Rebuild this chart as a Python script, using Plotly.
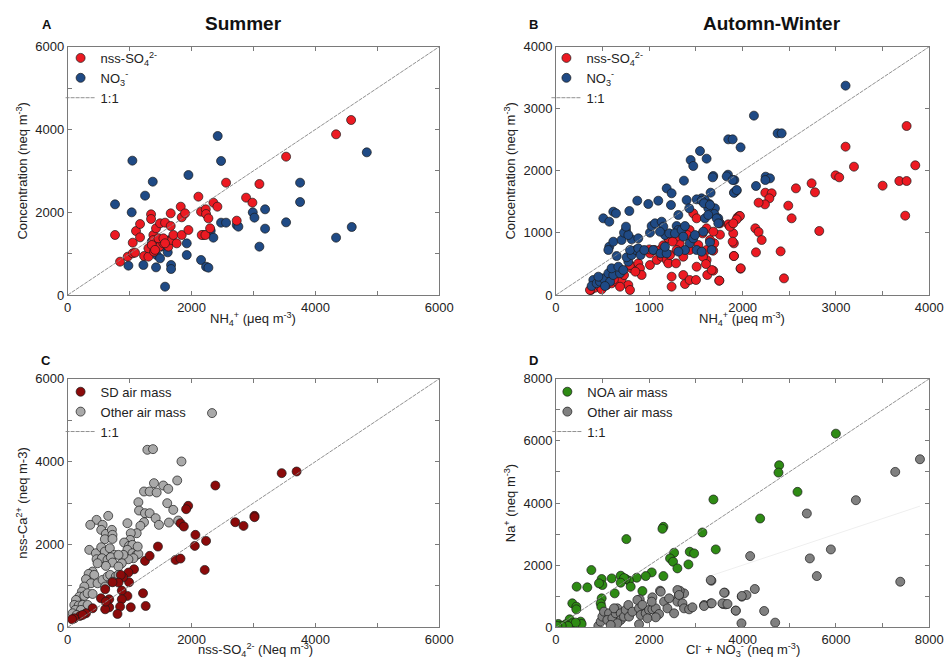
import plotly.graph_objects as go

# ---------------- Panel A: Summer ----------------
a_so4_nh4 = [764, 845, 969, 1050, 1087, 1050, 1103, 1168, 1168, 1233, 1303, 1303, 1346, 1346, 1383,
             1383, 1394, 1426, 1491, 1572, 1663, 1663, 1480, 1545, 1599, 1626, 1680, 1706, 1760, 1841,
             1825, 1841, 1895, 1949, 1464, 1545, 1357, 1410, 1571, 2110, 2153, 2229, 2234, 2272, 2164,
             2223, 2299, 2352, 2417, 2557, 2729, 2880, 2982, 3095, 3526, 4333, 4576]
a_so4 = [1450, 805, 926, 1007, 1023, 1264, 1546, 1715, 1393, 942, 926, 1128, 1949, 1836, 1450,
         1329, 1047, 1611, 1732, 1748, 1973, 1667, 1168, 1248, 1313, 1168, 1329, 1450, 1248, 1450,
         2134, 1877, 1973, 1571, 1369, 1369, 1208, 1090, 1249, 2376, 2014, 2070, 1957, 1852, 1450,
         1450, 1611, 2231, 2134, 2714, 1796, 2352, 2231, 2682, 3342, 3882, 4228]
a_no3_nh4 = [764, 980, 1044, 1033, 1222, 1249, 1373, 1426, 1437, 1491, 1513, 1572, 1615, 1669, 1669,
             1653, 1922, 1922, 1949, 2153, 2234, 2272, 2191, 2309, 2352, 2422, 2476, 2476, 2557, 2729,
             2756, 2988, 3015, 3095, 3187, 3187, 3526, 3752, 3752, 4333, 4586, 4829, 1357, 1450]
a_no3 = [2191, 709, 3246, 1997, 725, 2400, 2738, 668, 966, 886, 1168, 201, 1031, 725, 628,
         1329, 966, 1248, 2899, 846, 684, 660, 1450, 1554, 1385, 3842, 3238, 1748, 1748, 1691,
         1651, 1997, 1869, 1168, 2070, 1603, 1756, 2714, 2247, 1385, 1643, 3447, 1289, 1180]

# ---------------- Panel B: Autumn-Winter ----------------
b_so4_nh4 = [3757, 3103, 3193, 2996, 3035, 3500, 3679, 3757, 3850, 3742, 2739, 2775, 2571, 2489, 2525,
             2821, 2407, 2443, 2243, 2311, 2286, 2239, 2171, 2136, 2171, 2204, 2143, 1978, 1906, 1906,
             1899, 1946, 1964, 1846, 1757, 1696, 1685, 1685, 1750, 1614, 1621,
             375, 418, 471, 543, 596, 650, 703, 775, 793, 686, 729, 811, 793, 882, 900,
             918, 850, 1007, 1007, 1079, 1000, 1054, 1114, 1132, 1186, 1204, 1222, 1325, 1286, 1239,
             1239, 1364, 1382, 1432, 1500, 1668, 1750, 1432, 1407, 1471, 1507, 1571, 1614, 1650, 1686,
             1614, 1525, 1432, 1311, 1293, 1204, 1293, 1364, 1757, 1864, 1893, 1907, 1979, 1971, 1936,
             1900, 1575, 1607, 1507, 364, 489, 560, 620, 1150, 1250]
b_so4 = [2722, 2389, 2067, 1927, 1895, 1761, 1836, 1836, 2089, 1278, 1799, 1654, 1718, 1439, 1235,
         1031, 703, 268, 1648, 1638, 1557, 1460, 1487, 1074, 1015, 886, 687, 424, 628, 832,
         993, 1251, 1272, 1138, 972, 832, 714, 392, 231, 563, 322,
         81, 118, 134, 161, 188, 215, 252, 161, 81, 134, 322, 430, 483, 510, 430,
         322, 376, 483, 671, 564, 735, 725, 725, 617, 564, 510, 644, 832, 510, 295,
         134, 322, 177, 242, 242, 403, 231, 1047, 966, 1315, 1235, 993, 1074, 886, 1020,
         725, 805, 725, 966, 940, 913, 725, 617, 1154, 1101, 859, 628, 430, 1272, 1219,
         1154, 617, 499, 456, 81, 91, 300, 250, 800, 860]
b_no3_nh4 = [3103, 2121, 2375, 2418, 1846, 1893, 1978, 1614, 1685, 1843, 1911, 1911, 1936, 2143, 2247,
             2293, 2243, 1657, 1560, 1596, 1643, 1703, 1632, 1696, 1739, 1596, 1750, 1578, 1650, 1668,
             1543, 400, 382, 436, 471, 507, 454, 561, 579, 525, 614, 686, 596, 668, 721,
             775, 757, 811, 857, 793, 882, 907, 946, 650, 571, 561, 614, 703, 811, 882,
             750, 729, 775, 750, 507, 571, 614, 643, 786, 871, 989, 1096, 1186, 1239, 1371,
             1443, 1471, 1679, 1829, 1893, 1907, 1936, 1232, 1311, 1400, 1428, 1507, 1561, 1586, 1650,
             1632, 1721, 1739, 1007, 1025, 1061, 1132, 1150, 1168, 1114, 1214, 1293, 1311, 1275, 1346,
             1364, 1382, 1432, 1382, 1507, 1471, 1561, 1489, 1311, 1043, 1121, 1186, 1168]
b_no3 = [3372, 2889, 2604, 2604, 2507, 2507, 2378, 2196, 1917, 1938, 1852, 1648, 1681, 1756, 1906,
         1879, 1852, 1648, 1557, 1530, 1466, 1396, 1396, 1305, 1235, 1235, 1165, 1020, 848, 725,
         2319, 242, 145, 188, 215, 268, 295, 349, 215, 145, 322, 349, 430, 456, 403,
         537, 607, 644, 725, 725, 752, 644, 725, 628, 778, 725, 859, 886, 897, 913,
         1047, 1004, 966, 1101, 1235, 1181, 1342, 1315, 1353, 1519, 1466, 1519, 1718, 1638, 1842,
         2174, 2078, 1895, 1911, 1852, 1648, 1691, 1450, 1289, 1530, 1396, 1541, 1519, 1477, 1450,
         1289, 1235, 1154, 1004, 1111, 1154, 1181, 1101, 966, 1020, 993, 1111, 1047, 993, 1047,
         940, 1111, 832, 725, 725, 913, 698, 966, 698, 725, 671, 671, 778]

# ---------------- Panel C: Ca vs SO4 ----------------
c_sd_so4 = [3455, 3696, 2384, 2705, 2839, 3016, 3016, 1945, 1912, 1821, 1875, 2062, 2052, 2234, 2212,
            1741, 1821, 1457, 1248, 1323, 1216, 1259, 1071, 980, 991, 964, 1018, 895, 857, 820,
            723, 873, 873, 846, 804, 670, 670, 605, 536, 616, 605, 402, 295, 198, 107, 70, 241]
c_sd_ca = [3721, 3761, 3423, 2537, 2448, 2690, 2658, 2932, 2851, 2513, 2432, 2231, 1965, 2086, 1385,
           1627, 1659, 1949, 1603, 1724, 822, 515, 1401, 1321, 1087, 757, 483, 1208, 1265, 1079,
           1087, 886, 677, 499, 322, 677, 483, 435, 701, 620, 918, 459, 338, 274, 217, 193, 298]
c_other_so4 = [2330, 1286, 1377, 1837, 1768, 1543, 1623, 1393, 1232, 1323, 1436, 1607, 1704, 1141, 1152,
               1248, 1323, 1420, 1473, 1634, 1784, 1232, 1173, 1114, 964, 466, 364, 563, 654, 541,
               616, 713, 723, 600, 723, 1018, 1007, 911, 991, 1045, 964, 1045, 1114, 1141, 1061,
               980, 900, 873, 1130, 348, 455, 541, 600, 680, 755, 466, 552, 643, 696, 820,
               723, 820, 616, 482, 402, 338, 429, 295, 375, 482, 563, 643, 686, 777, 605,
               723, 820, 268, 230, 188, 268, 321, 402, 134, 107, 177, 241, 321, 123, 214,
               80, 145]
c_other_ca = [5171, 4285, 4301, 4003, 3544, 3423, 3342, 3479, 3278, 3278, 3254, 2996, 2835, 3020, 2819,
              2754, 2754, 2634, 2473, 2529, 2577, 2537, 2448, 2271, 2513, 2593, 2473, 2473, 2690, 2352,
              2255, 2352, 2231, 2126, 2134, 2271, 2110, 2046, 1965, 1989, 1869, 1788, 1748, 1772, 1667,
              1643, 1748, 1546, 1949, 1869, 1788, 1933, 1828, 1909, 1748, 1643, 1667, 1627, 1691, 1748,
              1562, 1466, 1482, 1546, 1345, 1289, 1265, 1160, 1063, 1063, 1144, 1224, 1265, 1224, 983,
              1103, 1265, 983, 862, 741, 757, 822, 805, 660, 540, 524, 540, 540, 419, 419,
              338, 298]

# ---------------- Panel D: Na vs Cl + NO3 ----------------
d_noa_x = [5998, 4783, 4768, 5176, 3374, 4375, 2302, 2281, 1508, 3138, 3424, 2531, 2867, 2960, 2445,
           2509, 2602, 2838, 2302, 2052, 1923, 1852, 1730, 1566, 1494, 1387, 1458, 1387, 1601, 1194,
           1258, 979, 994, 922, 979, 958, 972, 758, 672, 443, 350, 436, 436, 293, 350,
           529, 550, 422, 207, 257, 50, 122, 29]
d_noa_na = [6233, 5216, 4980, 4359, 4113, 3502, 3234, 3170, 2838, 3052, 2506, 2399, 2431, 2378, 2217,
            2110, 1896, 2024, 1649, 1767, 1649, 1167, 1596, 1499, 1553, 1660, 1585, 1435, 1307, 1574,
            1092, 1553, 1360, 1414, 932, 771, 664, 1842, 1285, 1307, 771, 664, 578, 257, 129,
            182, 107, 150, 96, 43, 107, 43, 43]
d_other_x = [7800, 7270, 6427, 5376, 5891, 5440, 5590, 7378, 4161, 3331, 3617, 3639, 3581, 4261, 3982,
             4082, 3853, 4461, 3975, 4697, 3174, 3317, 2745, 2652, 2624, 2230, 2066, 1794, 1780,
             908, 958, 994, 1029, 1137, 1101, 1208, 1280, 1315, 1244, 1387, 1387, 1458, 1494, 1551,
             1315, 1172, 1566, 1637, 1744, 1780, 1816, 1852, 1923, 1995, 2066, 2138, 2052, 2209, 2245,
             2316, 2388, 2424, 2531, 2602, 2602, 2638, 2710, 2745, 2853, 2924, 3174, 3317, 3338, 3567,
             3675, 3603, 3853, 3982, 2138, 1959]
d_other_na = [5409, 5002, 4091, 3663, 2506, 2217, 1649, 1467, 2292, 1499, 1114, 739, 750, 1232, 985,
              1039, 536, 525, 129, 150, 718, 771, 1092, 1178, 985, 1178, 964, 900, 96,
              43, 182, 343, 503, 450, 236, 289, 450, 610, 610, 450, 236, 343, 557, 718,
              129, 75, 343, 503, 878, 610, 396, 718, 450, 557, 578, 610, 825, 428, 1146,
              825, 610, 932, 450, 825, 1199, 1039, 771, 610, 578, 643, 685, 1520, 771, 771,
              750, 1114, 536, 1007, 321, 289]
# faint reference line for the other air mass group
d_fit_x = [3200, 7800]
d_fit_slope = 0.5

one_to_one_a = [0, 6000]
one_to_one_b = [0, 4000]
one_to_one_c = [0, 6000]
one_to_one_d = [0, 8000]

RED = "#ec1a22"
NAVY = "#1f4a85"
DARKRED = "#8b0a0a"
LIGHTGRAY = "#a9a9a9"
GREEN = "#2e8b14"
GRAY = "#808080"
FONT = "Liberation Sans, Arial, sans-serif"


def marker(color):
    return dict(color=color, size=9, line=dict(color="#1a1a1a", width=0.7))


def one_line(xy, ax, legend):
    return go.Scatter(x=xy, y=xy, mode="lines", name="1:1", xaxis=ax[0], yaxis=ax[1],
                      line=dict(color="#858585", width=0.9, dash="4px,1px"),
                      legend=legend, legendrank=3)


fig = go.Figure()

# A
fig.add_trace(go.Scatter(x=a_no3_nh4, y=a_no3, mode="markers", name="NO<sub>3</sub><sup>-</sup>",
                         marker=marker(NAVY), xaxis="x", yaxis="y", legend="legend", legendrank=2))
fig.add_trace(go.Scatter(x=a_so4_nh4, y=a_so4, mode="markers", name="nss-SO<sub>4</sub><sup>2-</sup>",
                         marker=marker(RED), xaxis="x", yaxis="y", legend="legend", legendrank=1))
fig.add_trace(one_line(one_to_one_a, ("x", "y"), "legend"))

# B
fig.add_trace(go.Scatter(x=b_so4_nh4, y=b_so4, mode="markers", name="nss-SO<sub>4</sub><sup>2-</sup>",
                         marker=marker(RED), xaxis="x2", yaxis="y2", legend="legend2", legendrank=1))
fig.add_trace(go.Scatter(x=b_no3_nh4, y=b_no3, mode="markers", name="NO<sub>3</sub><sup>-</sup>",
                         marker=marker(NAVY), xaxis="x2", yaxis="y2", legend="legend2", legendrank=2))
fig.add_trace(one_line(one_to_one_b, ("x2", "y2"), "legend2"))

# C
fig.add_trace(go.Scatter(x=c_other_so4, y=c_other_ca, mode="markers", name="Other air mass",
                         marker=marker(LIGHTGRAY), xaxis="x3", yaxis="y3", legend="legend3", legendrank=2))
fig.add_trace(go.Scatter(x=c_sd_so4, y=c_sd_ca, mode="markers", name="SD air mass",
                         marker=marker(DARKRED), xaxis="x3", yaxis="y3", legend="legend3", legendrank=1))
fig.add_trace(one_line(one_to_one_c, ("x3", "y3"), "legend3"))

# D
fig.add_trace(go.Scatter(x=d_fit_x, y=[v * d_fit_slope for v in d_fit_x], mode="lines",
                         line=dict(color="#efefef", width=1), showlegend=False,
                         xaxis="x4", yaxis="y4", hoverinfo="skip"))
fig.add_trace(go.Scatter(x=d_noa_x, y=d_noa_na, mode="markers", name="NOA air mass",
                         marker=marker(GREEN), xaxis="x4", yaxis="y4", legend="legend4", legendrank=1))
fig.add_trace(go.Scatter(x=d_other_x, y=d_other_na, mode="markers", name="Other air mass",
                         marker=marker(GRAY), xaxis="x4", yaxis="y4", legend="legend4", legendrank=2))
fig.add_trace(one_line(one_to_one_d, ("x4", "y4"), "legend4"))


def axis(rng, dtick, minor, domain, anchor, title=None):
    d = dict(range=rng, domain=domain, anchor=anchor, dtick=dtick, tick0=0,
             ticks="inside", ticklen=4, tickwidth=1, tickcolor="#7a7a7a",
             showline=True, linecolor="#7a7a7a", linewidth=1, mirror="ticks",
             showgrid=False, zeroline=False, automargin=False,
             tickfont=dict(size=13, color="#222", family=FONT))
    if title:
        d["title"] = dict(text=title, font=dict(size=13, color="#222", family=FONT), standoff=4)
    if minor:
        d["minor"] = dict(dtick=minor, tick0=0, ticks="inside", ticklen=4,
                          tickcolor="#7a7a7a", showgrid=False)
    return d


xl = [0.0715, 0.4639]
xr = [0.5871, 0.9813]
yt = [0.5537, 0.9294]
yb = [0.0510, 0.4270]

nh4 = "NH<sub>4</sub><sup>+</sup> (μeq m<sup>-3</sup>)"
conc = "Concentration (neq m<sup>-3</sup>)"


def legend(x, y):
    return dict(x=x, y=y, xanchor="left", yanchor="top", bgcolor="rgba(0,0,0,0)",
                font=dict(size=13, color="#222", family=FONT), tracegroupgap=0,
                itemsizing="trace", itemwidth=30)


fig.update_layout(
    width=947, height=661, margin=dict(l=0, r=0, t=0, b=0),
    paper_bgcolor="white", plot_bgcolor="white",
    font=dict(family=FONT, color="#222"),
    xaxis=axis([0, 6000], 2000, 1000, xl, "y"),
    yaxis=axis([0, 6000], 2000, 1000, yt, "x", conc),
    xaxis2=axis([0, 4000], 1000, 500, xr, "y2"),
    yaxis2=axis([0, 4000], 1000, None, yt, "x2", conc),
    xaxis3=axis([0, 6000], 2000, 1000, xl, "y3"),
    yaxis3=axis([0, 6000], 2000, 1000, yb, "x3", "nss-Ca<sup>2+</sup> (neq m-3)"),
    xaxis4=axis([0, 8000], 2000, 1000, xr, "y4"),
    yaxis4=axis([0, 8000], 2000, 1000, yb, "x4", "Na<sup>+</sup> (neq m<sup>-3</sup>)"),
    legend=legend(0.064, 0.935),
    legend2=legend(0.577, 0.935),
    legend3=legend(0.064, 0.43),
    legend4=legend(0.578, 0.43),
    showlegend=True,
)

title_font = dict(size=19, color="#111", family=FONT)
letter_font = dict(size=13, color="#111", family=FONT)
xtitle_font = dict(size=13, color="#222", family=FONT)
anns = [
    dict(text="<b>Summer</b>", x=243 / 947, y=1 - 23 / 661, font=title_font),
    dict(text="<b>Automn-Winter</b>", x=772 / 947, y=1 - 23 / 661, font=title_font),
    dict(text="<b>A</b>", x=47 / 947, y=1 - 24 / 661, font=letter_font),
    dict(text="<b>B</b>", x=533 / 947, y=1 - 24 / 661, font=letter_font),
    dict(text="<b>C</b>", x=46 / 947, y=1 - 360 / 661, font=letter_font),
    dict(text="<b>D</b>", x=533 / 947, y=1 - 360 / 661, font=letter_font),
    # x-axis titles
    dict(text=nh4, x=253 / 947, y=1 - 319 / 661, font=xtitle_font),
    dict(text=nh4, x=742 / 947, y=1 - 319 / 661, font=xtitle_font),
    dict(text="nss-SO<sub>4</sub><sup>2-</sup> (Neq m<sup>-3</sup>)", x=255 / 947, y=0.0,
         font=xtitle_font, yanchor="bottom"),
    dict(text="Cl<sup>-</sup> + NO<sub>3</sub><sup>-</sup> (neq m<sup>-3</sup>)", x=743 / 947,
         y=0.0, font=xtitle_font, yanchor="bottom"),
]
for a in anns:
    a.setdefault("yanchor", "middle")
    a.update(xref="paper", yref="paper", showarrow=False, xanchor="center")
fig.update_layout(annotations=anns)

fig.write_html("out.html")
